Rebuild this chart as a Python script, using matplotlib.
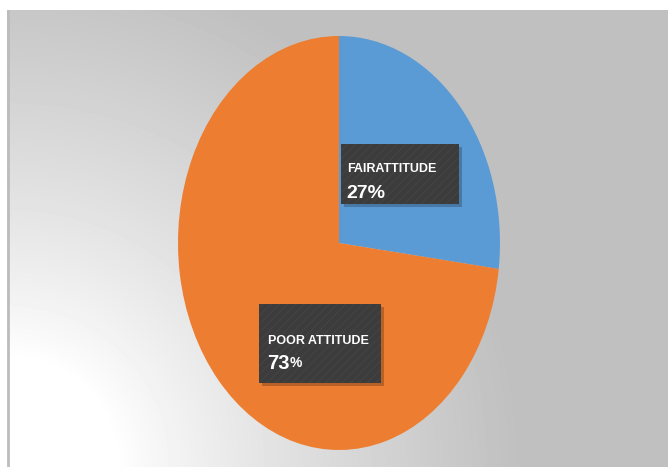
import numpy as np
from matplotlib import pyplot as plt
from matplotlib.patches import Rectangle

plt.rcParams['font.family'] = ['Liberation Sans', 'DejaVu Sans']
plt.rcParams['hatch.linewidth'] = 0.8

# pie data
labels = ['FAIRATTITUDE', 'POOR ATTITUDE']
values = [27, 73]
colors = ['#5b9bd5', '#ed7d31']

W, H = 668, 467

fig = plt.figure(figsize=(W / 100, H / 100), dpi=100)
fig.patch.set_facecolor('white')

# background panel with a radial gradient from the bottom left corner
bg = fig.add_axes([7 / W, 0, (W - 7) / W, (H - 10) / H])
bg.axis('off')
pw, ph = W - 7, H - 10
xx, yy = np.meshgrid(np.arange(pw), np.arange(ph))
d = np.sqrt(xx ** 2 + (ph - yy) ** 2)
t = np.clip((d - 110) / 400, 0, 1) ** 0.85
gray = 0.753
img = 1 - (1 - gray) * t
bg.imshow(img, cmap='gray', vmin=0, vmax=1, aspect='auto',
          extent=(0, pw, ph, 0), interpolation='bilinear')
bg.axvline(0.8, color='#bcbcbc', lw=2)

# the pie is stretched into an ellipse
ax = fig.add_axes([178 / W, (H - 450) / H, 322 / W, 414 / H])
ax.pie(values, colors=colors, startangle=90, counterclock=False,
       wedgeprops=dict(linewidth=0))
ax.set_aspect('auto')
ax.set_xlim(-1, 1)
ax.set_ylim(-1, 1)
ax.axis('off')

# overlay in pixel coordinates for the label boxes
ov = fig.add_axes([0, 0, 1, 1])
ov.set_xlim(0, W)
ov.set_ylim(H, 0)
ov.axis('off')


def label_box(x0, y0, x1, y1):
    ov.add_patch(Rectangle((x0 + 3, y0 + 3), x1 - x0, y1 - y0,
                           facecolor='black', alpha=0.22, lw=0))
    ov.add_patch(Rectangle((x0, y0), x1 - x0, y1 - y0,
                           facecolor='#3c3c3c', edgecolor='#444444',
                           hatch='////', lw=0))


label_box(341, 144, 459, 204)
ov.text(347, 169, labels[0], color='white', fontsize=9,
        fontweight='bold', va='center', ha='left')
ov.text(346, 194, '{}%'.format(values[0]), color='white', fontsize=14,
        fontweight='bold', va='center', ha='left')

label_box(259, 304, 381, 383)
ov.text(268, 340.5, labels[1], color='white', fontsize=9,
        fontweight='bold', va='center', ha='left')
t73 = ov.text(267, 363.5, str(values[1]), color='white', fontsize=14.5,
              fontweight='bold', va='center', ha='left')
ov.annotate('%', xy=(1, 0.18), xycoords=t73, color='white', fontsize=10,
            fontweight='bold', va='bottom', ha='left')

fig.savefig('out.png', dpi=100)
